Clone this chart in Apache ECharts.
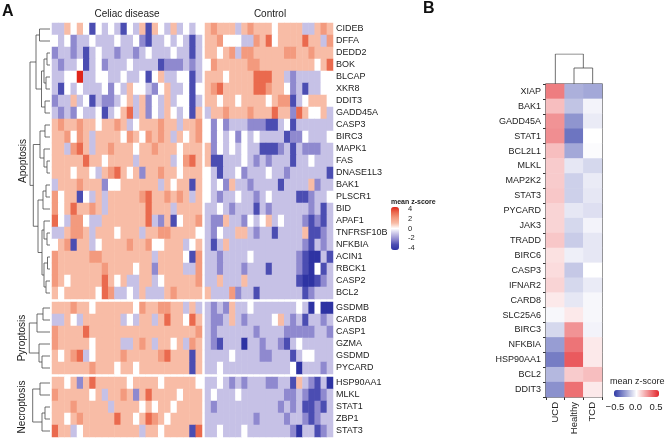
<!DOCTYPE html>
<html>
<head>
<meta charset="utf-8">
<script src="https://cdn.jsdelivr.net/npm/echarts@6/dist/echarts.min.js"></script>
<style>html,body{margin:0;padding:0;background:#fff}#chart{width:666px;height:443px}</style>
</head>
<body>
<div id="chart"></div>
<script>
// ---- panel A data: mean z-score per sample, rows = genes ----
var apoGenes = ['CIDEB','DFFA','DEDD2','BOK','BLCAP','XKR8','DDIT3','GADD45A','CASP3','BIRC3','MAPK1','FAS',
    'DNASE1L3','BAK1','PLSCR1','BID','APAF1','TNFRSF10B','NFKBIA','ACIN1','RBCK1','CASP2','BCL2'];
var pyroGenes = ['GSDMB','CARD8','CASP1','GZMA','GSDMD','PYCARD'];
var necroGenes = ['HSP90AA1','MLKL','STAT1','ZBP1','STAT3'];

var apoCeliac = [
    [-1,-1,1,0,1,0,-3,0,-1,0,-1,-3,0,-1,1,-3,1,0,-1,1,-1,0,-1,0],
    [0,-1,0,-2,-1,-1,0,-1,-1,-1,0,-1,-1,0,-2,-3,-1,-1,0,-1,0,-1,-3,-1],
    [-2,-1,-1,-2,-1,-3,-1,0,-1,-1,-2,-1,-1,-2,-1,0,-1,-1,-1,0,-1,-1,-3,-1],
    [-1,-2,-1,-1,0,-3,-1,0,-2,-1,-1,-1,0,-1,-1,-1,-1,-3,-2,-2,-2,-1,-2,-1],
    [-1,-1,0,0,4,-1,-1,0,0,-1,-1,0,-1,-1,0,-3,0,1,-1,-1,0,0,-3,-1],
    [-1,-3,0,-1,0,-1,-1,-1,0,-2,0,-1,1,0,0,-1,-2,0,1,-1,-1,0,-3,0],
    [-2,-1,-1,1,-1,0,-3,-1,-2,-2,-1,0,1,-1,1,-2,0,-1,1,-1,0,0,-3,-1],
    [-1,-2,-1,-2,0,-1,-1,0,-3,-1,0,1,3,-1,1,-2,0,-1,1,0,-1,0,-3,1],
    [1,2,1,1,2,1,1,0,1,1,2,1,-1,0,1,1,1,2,1,1,-1,1,1,2],
    [1,1,2,0,2,1,-1,1,1,1,1,0,2,1,0,2,1,2,1,-1,1,0,1,2],
    [1,1,-1,2,3,1,-1,1,1,2,1,1,1,0,1,1,2,1,1,1,0,1,1,1],
    [1,1,1,1,1,3,1,1,0,1,1,1,1,-1,1,1,1,1,1,-1,0,2,3,1],
    [1,1,1,0,1,1,0,-1,1,2,3,1,0,1,-2,1,1,2,1,1,0,1,1,1],
    [-1,1,1,1,2,1,1,1,-2,0,0,1,1,1,1,1,1,-1,1,0,1,1,-3,1],
    [2,0,1,1,-3,0,-1,1,-1,1,1,1,1,1,2,3,1,1,2,1,2,1,-1,1],
    [2,0,1,3,1,1,2,1,-1,1,1,1,1,1,1,3,1,1,1,-1,1,1,1,1],
    [3,0,-1,2,2,0,-1,-1,1,1,1,1,1,1,1,3,-1,-2,1,-3,0,1,1,2],
    [-1,-1,1,2,2,1,-1,1,1,1,0,1,1,1,-1,1,1,2,2,1,1,1,1,0],
    [0,1,2,-3,1,1,-1,0,1,1,1,1,2,1,1,2,0,0,1,1,1,-1,0,1],
    [2,1,1,1,1,1,2,2,1,1,1,1,1,1,1,1,-1,1,1,1,1,0,-3,2],
    [2,1,1,1,1,1,1,1,2,1,1,1,1,0,1,1,-2,1,1,1,1,-1,-1,2],
    [2,1,0,1,1,1,1,1,3,1,0,1,-1,-1,1,1,-1,0,1,1,1,1,1,2],
    [1,0,1,1,1,1,1,0,3,2,-1,-1,0,-1,1,-1,-1,-1,1,2,1,1,1,1]
];
var apoControl = [
    [1,2,1,1,1,-1,1,2,1,1,1,0,1,1,1,1,-1,-1,1,2,1],
    [1,1,2,0,0,0,-1,-1,2,1,3,0,1,1,1,1,3,1,1,-1,2],
    [1,1,0,1,2,-1,2,2,1,1,1,1,1,2,2,1,1,2,1,1,1],
    [0,2,1,1,1,1,1,2,2,1,1,1,1,1,1,1,1,1,0,1,3],
    [1,1,1,0,1,1,1,1,3,3,3,1,1,-1,-2,-1,-1,-1,-1,0,0],
    [1,2,3,1,1,1,1,1,3,3,2,1,1,0,-2,-1,-3,-1,-1,0,0],
    [1,1,0,1,1,0,1,1,1,1,0,1,2,2,-3,-1,0,1,1,1,0],
    [-1,1,1,2,1,1,1,2,1,1,1,3,1,1,-2,3,1,0,0,1,-1],
    [0,-2,0,-2,-1,-1,-1,-2,-2,-2,-3,-3,-1,0,-3,-1,-1,-1,-1,-1,-1],
    [0,-2,0,-1,0,-2,0,-1,0,-1,-1,-1,-1,-3,-2,-2,0,-1,-1,-1,0],
    [1,-2,0,-1,0,-1,0,-1,-1,-3,-3,-3,-2,-1,-3,-1,-2,-2,-2,-1,-1],
    [1,-3,-3,-1,-1,-1,0,-1,-2,-1,-2,-1,-1,-1,-3,-1,-1,0,-1,-1,-1],
    [0,-1,-3,-1,-1,0,-2,-1,-1,-1,0,-1,-1,-2,-1,-1,-1,-1,-1,-1,-3],
    [0,-1,0,-2,1,-1,-1,-2,-1,-1,-1,-1,-3,-1,-1,-1,-1,1,-2,-1,-1],
    [0,-1,-2,-1,-1,0,-1,-1,-2,-1,0,-1,-1,-1,-1,-3,-3,-2,-1,-1,0],
    [-1,-1,0,-1,-2,-1,-1,-1,-3,-1,-2,-1,-1,-1,-1,-1,-1,-2,-1,-3,-1],
    [-1,-2,-2,1,-1,-1,-2,0,-1,0,1,-1,0,-1,-1,-1,-2,-3,-2,-3,-1],
    [-1,-2,0,-1,-1,1,1,-1,-2,-1,-1,-3,-1,-1,-1,-1,1,-3,-3,-2,-1],
    [-1,-3,-1,1,-1,-1,-1,-1,-1,-1,-1,-1,-1,-1,-1,-1,-2,-3,-1,-2,-1],
    [-1,-1,-2,-1,-1,-1,-1,0,-1,-1,-1,-1,-1,-1,-1,-2,-3,-4,-4,-1,-3],
    [-1,-1,-2,-1,-1,-1,-2,-1,-1,-1,-3,-1,-1,-1,-1,-2,-3,-4,0,-3,-1],
    [-1,-1,1,-1,-1,-1,1,-1,-1,-1,-1,-1,-1,-1,-1,-3,-4,-4,-3,-2,-1],
    [1,-1,-1,-1,2,-2,-1,-1,-3,-1,-1,-1,-1,-1,-1,-1,-3,-2,-1,-1,-1]
];
var pyroCeliac = [
    [1,1,1,2,1,1,0,1,1,1,1,1,1,0,2,1,1,2,2,1,1,-1,1,-1],
    [-1,-1,1,0,-1,1,1,1,1,1,1,-1,0,-1,1,1,-1,1,3,1,1,0,3,1],
    [2,1,1,1,1,3,1,1,1,1,1,1,1,1,1,1,1,1,1,1,1,1,1,2],
    [2,1,1,1,1,1,0,1,1,1,1,-1,-1,1,2,1,-1,1,1,0,1,-1,2,1],
    [1,0,1,2,3,-1,0,1,1,1,1,2,1,1,1,1,1,2,3,1,1,1,-3,1],
    [1,1,1,1,1,1,2,1,1,1,0,1,1,0,1,1,1,1,1,1,1,1,-3,1]
];
var pyroControl = [
    [-1,-2,-1,-2,1,-1,-1,0,-1,-1,-1,-1,-1,-1,-1,0,-1,-4,0,-4,-4],
    [-1,-2,-2,-1,1,-1,-2,-1,-1,-1,-1,0,1,-1,-2,-1,-3,-1,-1,-2,-1],
    [-1,-2,-1,-1,-1,-1,-1,-1,-2,-1,-1,-1,-1,-2,-2,-2,-2,-2,-1,-1,-2],
    [-1,-2,-3,-1,-1,-1,-4,-1,-1,-2,-1,-1,-2,-3,-1,0,-1,-1,-1,-1,-1],
    [-1,-1,-1,-1,0,-1,-1,-1,-1,-2,-2,-1,-1,-1,-3,-1,0,0,-1,-1,-1],
    [-1,-1,0,-1,-1,-1,-1,-1,-1,-1,-1,-1,-1,-1,0,-4,-1,-1,-1,-2,-1]
];
var necroCeliac = [
    [1,1,0,1,-2,1,3,1,1,1,1,1,0,1,1,1,1,0,1,1,1,1,1,0],
    [2,1,1,1,1,1,0,1,-1,1,1,2,1,-2,1,3,1,1,1,1,0,1,1,1],
    [1,1,1,2,1,1,1,1,1,-1,1,1,1,1,0,1,0,1,1,0,1,1,1,1],
    [1,1,0,1,2,1,1,1,1,1,3,1,1,0,1,3,2,1,0,1,1,1,1,1],
    [3,1,1,-1,0,1,1,1,1,1,1,1,1,1,-1,1,1,0,1,1,1,1,-3,3]
];
var necroControl = [
    [-1,-1,0,-1,-2,-1,-2,-1,-1,-1,-2,-2,-1,-1,-3,1,-1,-2,-3,-1,-4],
    [-1,0,-1,-1,-1,0,-1,-1,-1,-1,-1,-1,-1,-2,-2,-1,-2,-3,-3,-2,-1],
    [-1,-2,-1,-1,-1,-1,-1,-1,-1,-1,-1,-1,-2,-1,-2,-1,-3,-3,-2,-3,-1],
    [-1,-1,-1,-1,-1,-1,-1,-1,-2,-1,-1,-1,-1,-2,-1,-1,-2,-3,-2,-1,-1],
    [-1,-1,0,-1,-1,-1,0,-1,-1,-1,-1,-1,-1,-1,-2,-4,-1,-1,-3,-2,-1]
];
// row dendrograms: [left, right, height], leaves = row index
var apoTree = [
    [[0,1,10.5],[[[2,3,3],[4,5,4],6],[6,7,5],8.5],14],
    [[[8,9,5],[10,[11,12,3],6],10],
     [[[13,14,4],15,7],[[16,[17,18,3],6],[[19,20,2.5],[21,22,4],6],8],12],16.7],
    20];
var pyroTree = [[[0,1,7],2,13],[3,[4,5,8],11],20.7];
var necroTree = [[0,1,10],[[2,3,5],4,8],17.3];

// ---- panel B data ----
var bGenes = ['XIAP','BAK1','GADD45A','STAT1','BCL2L1','MLKL','MAP2K2','STAT3','PYCARD','JAK3','TRADD',
    'BIRC6','CASP3','IFNAR2','CARD8','SLC25A6','BIRC3','NFKBIA','HSP90AA1','BCL2','DDIT3'];
var bGroups = ['UCD','Healthy','TCD'];
var bUCD = [0.30,0.15,0.25,0.26,0.15,0.12,0.12,0.13,0.10,0.10,0.13,0.07,0.08,0.10,0.05,-0.02,-0.10,-0.25,-0.33,-0.18,-0.28];
var bHealthy = [-0.20,-0.15,-0.27,-0.35,-0.22,-0.06,-0.12,-0.12,-0.06,-0.10,-0.13,-0.04,-0.14,-0.10,-0.06,0.05,0.25,0.32,0.38,0.12,0.33];
var bTCD = [-0.22,-0.03,-0.05,0.00,-0.01,-0.10,-0.05,-0.06,-0.08,-0.03,-0.06,-0.06,0.00,-0.05,-0.02,-0.02,-0.03,0.05,0.05,0.15,0.05];
var bTree = [0,[1,2,16],30];

var font = "'Liberation Sans', Arial, sans-serif";
var grids = [], xAxes = [], yAxes = [], series = [], graphics = [];
var heatA = [];

function addGrid(g, x, y) {
    g.containLabel = false;
    grids.push(g);
    var i = grids.length - 1;
    x.gridIndex = i; y.gridIndex = i;
    xAxes.push(x); yAxes.push(y);
    return i;
}

function walkTree(node, out) {
    if (typeof node === 'number') return {p: node + 0.5, h: 0};
    var a = walkTree(node[0], out), b = walkTree(node[1], out), h = node[2];
    out.push([[a.h, a.p], [h, a.p], [h, b.p], [b.h, b.p]]);
    return {p: (a.p + b.p) / 2, h: h};
}

function treeSeries(idx, segs, swap) {
    return {
        type: 'lines', coordinateSystem: 'cartesian2d', xAxisIndex: idx, yAxisIndex: idx,
        polyline: true, silent: true,
        lineStyle: {color: '#4a4a4a', width: 0.8, opacity: 1},
        data: segs.map(function (s) {
            return {coords: swap ? s.map(function (p) { return [p[1], p[0]]; }) : s};
        })
    };
}

var blocks = [
    {genes: apoGenes, celiac: apoCeliac, control: apoControl, tree: apoTree, top: 23, label: 'Apoptosis', lx: 23},
    {genes: pyroGenes, celiac: pyroCeliac, control: pyroControl, tree: pyroTree, top: 302, label: 'Pyroptosis', lx: 22},
    {genes: necroGenes, celiac: necroCeliac, control: necroControl, tree: necroTree, top: 377, label: 'Necroptosis', lx: 22}
];
var sampleCols = [
    {key: 'celiac', left: 52, width: 150},
    {key: 'control', left: 205, width: 128}
];

blocks.forEach(function (b) {
    var h = b.genes.length * 12;
    sampleCols.forEach(function (sc) {
        var vals = b[sc.key];
        var data = [];
        vals.forEach(function (row, r) {
            row.forEach(function (v, c) { data.push([c, r, v]); });
        });
        var labels = sc.key === 'control';
        var gi = addGrid({left: sc.left, top: b.top, width: sc.width, height: h},
            {type: 'category', data: vals[0].map(function (v, c) { return c + 1; }), show: false},
            {type: 'category', data: b.genes, inverse: true, position: 'right', show: labels,
             axisLine: {show: false}, axisTick: {show: false},
             axisLabel: {interval: 0, margin: 3, fontSize: 9, color: '#222', fontFamily: font}});
        heatA.push(series.length);
        series.push({type: 'heatmap', xAxisIndex: gi, yAxisIndex: gi, data: data, silent: true,
            itemStyle: {borderWidth: 0}, progressive: 0});
    });
    var segs = [];
    walkTree(b.tree, segs);
    var ti = addGrid({left: 26, top: b.top, width: 24, height: h},
        {type: 'value', min: 0, max: 24, inverse: true, show: false},
        {type: 'value', min: 0, max: b.genes.length, inverse: true, show: false});
    series.push(treeSeries(ti, segs, false));
    graphics.push({type: 'text', x: b.lx, y: b.top + h / 2, rotation: Math.PI / 2,
        style: {text: b.label, font: '10px ' + font, fill: '#222', align: 'center', verticalAlign: 'middle'}});
});

// panel B heatmap
var bData = [];
[bUCD, bHealthy, bTCD].forEach(function (col, c) {
    col.forEach(function (v, r) { bData.push([c, r, v]); });
});
var bi = addGrid({left: 546, top: 84, width: 56, height: 313, show: true, borderColor: '#222', borderWidth: 1.2, backgroundColor: 'transparent'},
    {type: 'category', data: bGroups, position: 'bottom',
     axisLine: {show: false}, axisTick: {show: true, length: 3, lineStyle: {color: '#333'}},
     axisLabel: {interval: 0, rotate: 90, margin: 5, fontSize: 9.5, color: '#222', fontFamily: font}},
    {type: 'category', data: bGenes, inverse: true, position: 'left',
     axisLine: {show: false}, axisTick: {show: true, length: 3, lineStyle: {color: '#333'}},
     axisLabel: {interval: 0, margin: 5, fontSize: 9, color: '#222', fontFamily: font}});
var heatB = series.length;
series.push({type: 'heatmap', xAxisIndex: bi, yAxisIndex: bi, data: bData, silent: true, z: 1});

var bSegs = [];
walkTree(bTree, bSegs);
var bti = addGrid({left: 546, top: 54, width: 56, height: 30},
    {type: 'value', min: 0, max: 3, show: false},
    {type: 'value', min: 0, max: 30, show: false});
series.push(treeSeries(bti, bSegs, true));

// colour bar tick axes
addGrid({left: 399, top: 209, width: 1, height: 39},
    {type: 'value', show: false, min: 0, max: 1},
    {type: 'value', min: -4, max: 4, interval: 2, position: 'right',
     axisLine: {show: false}, axisTick: {show: false}, splitLine: {show: false},
     axisLabel: {margin: 8, fontSize: 7.5, color: '#222', fontFamily: font}});
addGrid({left: 615, top: 397, width: 41, height: 1},
    {type: 'value', min: -0.5, max: 0.5, interval: 0.5, position: 'bottom',
     axisLine: {show: false}, axisTick: {show: false}, splitLine: {show: false},
     axisLabel: {margin: 4, fontSize: 9.5, color: '#222', fontFamily: font,
        formatter: function (v) { return (v < 0 ? '\u2212' : '') + Math.abs(v).toFixed(1); }}},
    {type: 'value', show: false, min: 0, max: 1});

graphics.push(
    {type: 'text', x: 2, y: 4, style: {text: 'A', font: 'bold 16px ' + font, fill: '#111', verticalAlign: 'top'}},
    {type: 'text', x: 423, y: 1, style: {text: 'B', font: 'bold 16px ' + font, fill: '#111', verticalAlign: 'top'}},
    {type: 'text', x: 127, y: 14, style: {text: 'Celiac disease', font: '10px ' + font, fill: '#222', align: 'center', verticalAlign: 'middle'}},
    {type: 'text', x: 270, y: 14, style: {text: 'Control', font: '10px ' + font, fill: '#222', align: 'center', verticalAlign: 'middle'}},
    {type: 'text', x: 391, y: 202, style: {text: 'mean z-score', font: 'bold 7px ' + font, fill: '#222', verticalAlign: 'middle'}},
    {type: 'text', x: 610, y: 382, style: {text: 'mean z-score', font: '9px ' + font, fill: '#222', verticalAlign: 'middle'}}
);

var chart = echarts.init(document.getElementById('chart'), null, {renderer: 'canvas'});
chart.setOption({
    animation: false,
    backgroundColor: '#fff',
    textStyle: {fontFamily: font},
    grid: grids,
    xAxis: xAxes,
    yAxis: yAxes,
    visualMap: [
        {type: 'continuous', min: -4, max: 4, seriesIndex: heatA, orient: 'vertical',
         left: 391, top: 207, itemWidth: 8, itemHeight: 43, padding: 0, calculable: false, text: null,
         inRange: {color: ['#2e33a3', '#4b4db2', '#8f89cf', '#c6c1e6', '#ffffff', '#f8bca6', '#f39a7e', '#ea6a4e', '#e0261a']}},
        {type: 'continuous', min: -0.5, max: 0.5, seriesIndex: heatB, orient: 'horizontal',
         left: 614, top: 390, itemWidth: 7, itemHeight: 45, padding: 0, calculable: false, text: null,
         inRange: {color: ['#2f3aa6', '#ffffff', '#e3262b']}}
    ],
    graphic: graphics,
    series: series
});
</script>
</body>
</html>
